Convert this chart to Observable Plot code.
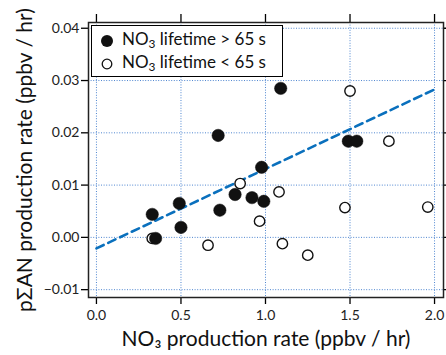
<!DOCTYPE html>
<html><head><meta charset="utf-8">
<script src="https://cdn.jsdelivr.net/npm/d3@7"></script>
<script src="https://cdn.jsdelivr.net/npm/@observablehq/plot@0.6"></script>
<style>
body{margin:0;background:#fff;font-family:Lato,"Open Sans",sans-serif;}
#wrap{position:relative;width:446px;height:355px;}
#legend{position:absolute;left:91px;top:25px;width:192px;height:52px;border:1.2px solid #000;background:#fff;box-sizing:border-box;font-size:17px;color:#111;}
#legend div{position:absolute;left:8px;height:20px;line-height:20px;white-space:nowrap;}
#legend svg{vertical-align:middle;margin-right:8px;}
sub{font-size:70%;vertical-align:-3px;line-height:0;}
</style></head>
<body><div id="wrap"></div>
<script>
// > 65 s (filled)
const longX = [0.72, 0.977, 1.49, 1.54, 0.33, 0.49, 0.50, 0.73, 0.82, 0.92, 0.99, 0.35, 1.09];
const longY = [0.0195, 0.0134, 0.0184, 0.0184, 0.0044, 0.0065, 0.0019, 0.0052, 0.0082, 0.0076, 0.0069, -0.0002, 0.0285];
// < 65 s (open)
const shortX = [1.50, 1.73, 0.85, 1.08, 1.47, 1.96, 0.965, 0.33, 0.66, 1.10, 1.25];
const shortY = [0.0280, 0.0184, 0.0103, 0.0087, 0.0057, 0.0058, 0.0031, -0.0002, -0.0015, -0.0012, -0.0034];
const fitIntercept = -0.0021;
const fitSlope = 0.0152;
const fitRange = [0, 2];
const xTicks = [0, 0.5, 1.0, 1.5, 2.0];
const yTicks = [-0.01, 0, 0.01, 0.02, 0.03, 0.04];

const longPts = longX.map((x, i) => ({x, y: longY[i]}));
const shortPts = shortX.map((x, i) => ({x, y: shortY[i]}));
const fitPts = fitRange.map(x => ({x, y: fitIntercept + fitSlope * x}));

const gridColor = "#4f86d0";
const plot = Plot.plot({
  width: 446, height: 355,
  marginLeft: 88, marginRight: 3, marginTop: 22, marginBottom: 58,
  style: {fontFamily: "Lato, 'Open Sans', sans-serif", fontSize: "13.5px", color: "#222", background: "#fff"},
  x: {domain: [-0.047, 2.053], ticks: xTicks},
  y: {domain: [-0.0115, 0.0411], ticks: yTicks},
  marks: [
    Plot.gridX(xTicks, {stroke: gridColor, strokeOpacity: 1, strokeWidth: 1, strokeDasharray: "1,1.6"}),
    Plot.gridY(yTicks, {stroke: gridColor, strokeOpacity: 1, strokeWidth: 1, strokeDasharray: "1,1.6"}),
    Plot.axisX(xTicks, {anchor: "bottom", tickSize: 7, tickPadding: 6, tickFormat: d3.format(".1f"), label: null, stroke: "#000", strokeWidth: 1.3, fontSize: 14}),
    Plot.axisX(xTicks, {anchor: "top", tickSize: 9, text: null, label: null, stroke: "#000", strokeWidth: 1.3}),
    Plot.axisY(yTicks, {anchor: "left", tickSize: 7, tickPadding: 2, tickFormat: d => d === 0 ? "0.00" : d3.format(".2f")(d), label: null, stroke: "#000", strokeWidth: 1.3, fontSize: 14}),
    Plot.axisY(yTicks, {anchor: "right", tickSize: 7, text: null, label: null, stroke: "#000", strokeWidth: 1.3}),
    Plot.line(fitPts, {x: "x", y: "y", stroke: "#0a70bd", strokeWidth: 2.6, strokeDasharray: "8,5"}),
    Plot.dot(shortPts, {x: "x", y: "y", r: 5.2, fill: "#fff", stroke: "#111", strokeWidth: 1.4}),
    Plot.dot(longPts, {x: "x", y: "y", r: 6.2, fill: "#111", stroke: "#111", strokeWidth: 0.5}),
    Plot.frame({stroke: "#222", strokeWidth: 1.5}),
    Plot.text(["NO₃ production rate (ppbv / hr)"], {frameAnchor: "bottom", dy: 48, fontSize: 21, fill: "#111", text: d => d}),
    Plot.text(["pΣAN production rate (ppbv / hr)"], {frameAnchor: "left", textAnchor: "middle", dx: -63, rotate: -90, fontSize: 21, fill: "#111", text: d => d})
  ]
});
const wrap = document.getElementById("wrap");
wrap.appendChild(plot);
const leg = document.createElement("div");
leg.id = "legend";
leg.innerHTML = `
<div style="top:3px"><svg width="14" height="14"><circle cx="7" cy="7" r="6" fill="#111"/></svg>NO<sub>3</sub> lifetime &gt; 65 s</div>
<div style="top:26px"><svg width="14" height="14"><circle cx="7" cy="7" r="4.8" fill="#fff" stroke="#111" stroke-width="1.3"/></svg>NO<sub>3</sub> lifetime &lt; 65 s</div>`;
wrap.appendChild(leg);
</script></body></html>
